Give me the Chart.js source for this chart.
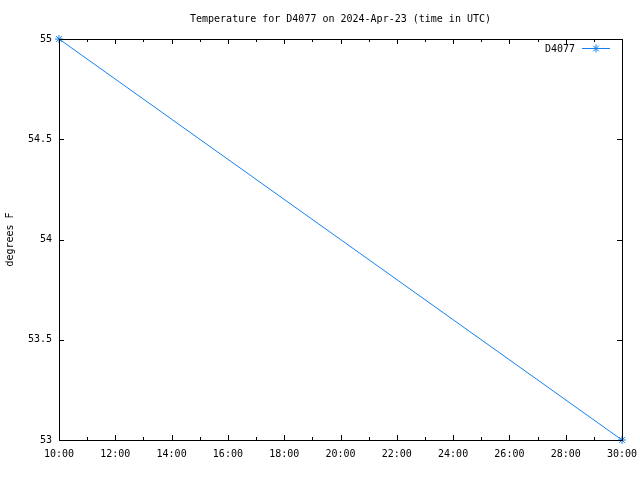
<!DOCTYPE html>
<html>
<head>
<meta charset="utf-8">
<script src="https://cdn.jsdelivr.net/npm/chart.js@4.4.1/dist/chart.umd.min.js"></script>
<style>
  html, body { margin: 0; padding: 0; background: #fff; }
  #wrap { width: 640px; height: 480px; }
</style>
</head>
<body>
<div id="wrap"><canvas id="myChart" width="640" height="480"></canvas></div>
<script>
// данные графика
var stationName = 'D4077';
var chartTitle = 'Temperature for D4077 on 2024-Apr-23 (time in UTC)';
var hours = [10, 30];        // время, часы UTC
var temps = [55, 53];        // градусы F
var yTicks = [53, 53.5, 54, 54.5, 55];
var lineColor = '#1480f0';

var points = [];
for (var i = 0; i < hours.length; i++) {
    points.push({ x: hours[i], y: temps[i] });
}

Chart.defaults.font.family = "'DejaVu Sans Mono', monospace";
Chart.defaults.font.size = 10;
Chart.defaults.color = '#000';

// рамка, засечки внутрь, заголовок и легенда как в gnuplot
var gnuFrame = {
    id: 'gnuFrame',
    afterDraw: function(chart) {
        var ctx = chart.ctx;
        var a = chart.chartArea;
        var xs = chart.scales.x;
        var ys = chart.scales.y;
        ctx.save();
        ctx.strokeStyle = '#000';
        ctx.lineWidth = 1;
        ctx.beginPath();
        // засечки по X (главные и промежуточные)
        for (var v = xs.min; v <= xs.max; v += 1) {
            var px = Math.round(xs.getPixelForValue(v)) + 0.5;
            var len = (v % 2 === 0) ? 5 : 3;
            ctx.moveTo(px, a.bottom); ctx.lineTo(px, a.bottom - len);
            ctx.moveTo(px, a.top); ctx.lineTo(px, a.top + len);
        }
        // засечки по Y
        for (var j = 0; j < yTicks.length; j++) {
            var py = Math.round(ys.getPixelForValue(yTicks[j])) + 0.5;
            ctx.moveTo(a.left, py); ctx.lineTo(a.left + 5, py);
            ctx.moveTo(a.right, py); ctx.lineTo(a.right - 5, py);
        }
        ctx.stroke();
        ctx.strokeRect(Math.round(a.left) + 0.5, Math.round(a.top) + 0.5,
            Math.round(a.right - a.left), Math.round(a.bottom - a.top));

        // заголовок по центру области графика
        ctx.fillStyle = '#000';
        ctx.textAlign = 'center';
        ctx.textBaseline = 'middle';
        ctx.font = "10px 'DejaVu Sans Mono', monospace";
        ctx.fillText(chartTitle, (a.left + a.right) / 2, 19);

        // легенда
        var ly = 48.5;
        ctx.textAlign = 'right';
        ctx.fillText(chart.data.datasets[0].label, 575, ly + 0.5);
        ctx.strokeStyle = lineColor;
        ctx.beginPath();
        ctx.moveTo(582, ly); ctx.lineTo(610, ly);
        ctx.stroke();
        Chart.helpers.drawPoint(ctx, { pointStyle: 'star', radius: 4, borderWidth: 1, rotation: 0 }, 596, ly);
        ctx.restore();
    }
};

var ctx = document.getElementById('myChart').getContext('2d');
var myLineChart = new Chart(ctx, {
    type: 'line',
    data: {
        datasets: [{
            label: stationName,
            data: points,
            borderColor: lineColor,
            backgroundColor: lineColor,
            borderWidth: 1,
            pointStyle: 'star',
            pointRadius: 4,
            pointBorderWidth: 1,
            pointBorderColor: lineColor,
            fill: false,
            clip: false,
            tension: 0
        }]
    },
    options: {
        responsive: false,
        animation: false,
        events: [],
        layout: { padding: { left: 0, right: 18, top: 39, bottom: 0 } },
        plugins: {
            legend: { display: false },
            tooltip: { enabled: false },
            title: { display: false }
        },
        scales: {
            x: {
                type: 'linear',
                min: 10,
                max: 30,
                grid: { display: false, drawTicks: false },
                border: { display: false },
                ticks: {
                    stepSize: 2,
                    padding: 8,
                    maxRotation: 0,
                    autoSkip: false,
                    callback: function(v) { return v + ':00'; }
                },
                afterFit: function(s) {
                    s.height = 40;
                    s.paddingLeft = 0;
                    s.paddingRight = 0;
                }
            },
            y: {
                min: 53,
                max: 55,
                grid: { display: false, drawTicks: false },
                border: { display: false },
                ticks: {
                    stepSize: 0.5,
                    padding: 7,
                    callback: function(v) { return String(v); }
                },
                title: {
                    display: true,
                    text: 'degrees F',
                    color: '#000',
                    padding: { top: 4, bottom: 0 }
                },
                afterFit: function(s) {
                    s.width = 59;
                    s.paddingTop = 0;
                    s.paddingBottom = 0;
                }
            }
        }
    },
    plugins: [gnuFrame]
});
</script>
</body>
</html>
